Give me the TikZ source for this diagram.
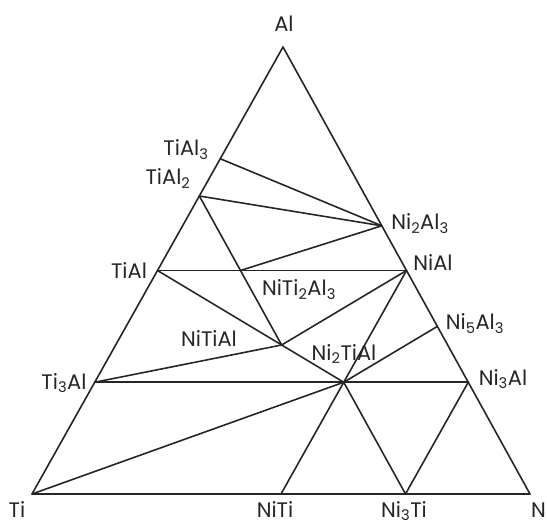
\documentclass[tikz,border=0pt]{standalone}
\usepackage{fontspec}
\setmainfont{Poppins}
\usepackage{xcolor}
\usepackage{tikz}
\usetikzlibrary{positioning}
\definecolor{inkgray}{HTML}{262626}

\begin{document}
\begin{tikzpicture}[x=1pt,y=-1pt,
  tie/.style={draw=inkgray,line width=1.6pt,line join=round,line cap=round},
  lbl/.style={font=\fontsize{21}{24}\selectfont,text=inkgray,inner sep=0pt,anchor=base}]
  \useasboundingbox (0,0) rectangle (547,524);
  % corners of the triangle
  \coordinate (Ti) at (32,494);
  \coordinate (Ni) at (530,494);
  \coordinate (Al) at (283,47);
  % binary phases
  \coordinate (TiAl3) at (barycentric cs:Ti=1,Al=3);
  \coordinate (TiAl2) at (barycentric cs:Ti=1,Al=2);
  \coordinate (TiAl) at (barycentric cs:Ti=1,Al=1);
  \coordinate (Ti3Al) at (barycentric cs:Ti=3,Al=1);
  \coordinate (Ni2Al3) at (barycentric cs:Ni=2,Al=3);
  \coordinate (NiAl) at (barycentric cs:Ni=1,Al=1);
  \coordinate (Ni5Al3) at (barycentric cs:Ni=5,Al=3);
  \coordinate (Ni3Al) at (barycentric cs:Ni=3,Al=1);
  \coordinate (NiTi) at (barycentric cs:Ni=1,Ti=1);
  \coordinate (Ni3Ti) at (barycentric cs:Ni=3,Ti=1);
  % ternary phases
  \coordinate (NiTi2Al3) at (barycentric cs:Ni=1,Ti=2,Al=3);
  \coordinate (NiTiAl) at (barycentric cs:Ni=1,Ti=1,Al=1);
  \coordinate (Ni2TiAl) at (barycentric cs:Ni=2,Ti=1,Al=1);

  \draw[tie] (Ti) -- (Ni) -- (Al) -- cycle;
  \draw[tie] (TiAl3) -- (Ni2Al3);
  \draw[tie] (TiAl2) -- (Ni2Al3);
  \draw[tie] (NiTi2Al3) -- (Ni2Al3);
  \draw[tie] (TiAl) -- (NiAl);
  \draw[tie] (TiAl2) -- (NiTiAl);
  \draw[tie] (TiAl) -- (Ni2TiAl);
  \draw[tie] (NiAl) -- (NiTiAl);
  \draw[tie] (NiAl) -- (Ni2TiAl);
  \draw[tie] (Ni5Al3) -- (Ni2TiAl);
  \draw[tie] (Ti3Al) -- (NiTiAl);
  \draw[tie] (Ti3Al) -- (Ni3Al);
  \draw[tie] (Ti) -- (Ni2TiAl);
  \draw[tie] (NiTi) -- (Ni2TiAl) -- (Ni3Ti) -- (Ni3Al);

  % labels
  \node[lbl] (lAl) at (284,32) {Al};
  \node[lbl] (lTi) at (17,517) {Ti};
  \node[lbl] (lNiTi) at (275,517) {NiTi};
  \node[lbl] (lNi3Ti) at (404,517) {Ni\textsubscript{3}Ti};
  \node[lbl,anchor=base west] (lNi) at (531,517) {Ni};
  \node[lbl] (lTiAl3) at (186,156) {TiAl\textsubscript{3}};
  \node[lbl] (lTiAl2) at (168,185) {TiAl\textsubscript{2}};
  \node[lbl] (lTiAl) at (129,279) {TiAl};
  \node[lbl] (lTi3Al) at (64,389) {Ti\textsubscript{3}Al};
  \node[lbl] (lNiTiAl) at (209,346) {NiTiAl};
  \node[lbl] (lNiTi2Al3) at (299,296) {NiTi\textsubscript{2}Al\textsubscript{3}};
  \node[lbl] (lNi2TiAl) at (344,360) {Ni\textsubscript{2}TiAl};
  \node[lbl] (lNi2Al3) at (420,230) {Ni\textsubscript{2}Al\textsubscript{3}};
  \node[lbl] (lNiAl) at (433,271) {NiAl};
  \node[lbl] (lNi5Al3) at (475,330) {Ni\textsubscript{5}Al\textsubscript{3}};
  \node[lbl] (lNi3Al) at (503,385) {Ni\textsubscript{3}Al};
\end{tikzpicture}
\end{document}
